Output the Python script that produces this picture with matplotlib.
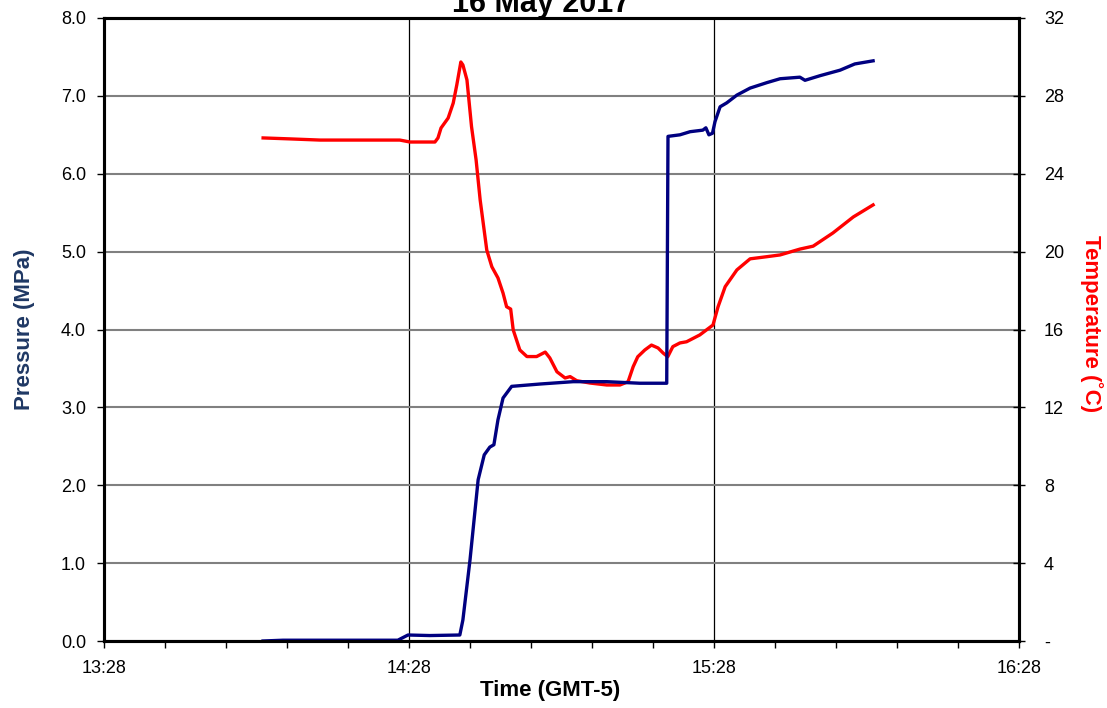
import matplotlib
matplotlib.use("Agg")
import matplotlib.pyplot as plt
import matplotlib.dates as mdates
import matplotlib.ticker as mticker
import pandas as pd

plt.rcParams['font.family'] = ['Liberation Sans', 'DejaVu Sans']

day = "2017-05-16 "

# pressure trace (MPa)
p_time = ["13:59:17", "14:03:12", "14:14:24", "14:25:48", "14:27:48", "14:32:06",
          "14:38:00", "14:38:36", "14:40:00", "14:41:36", "14:42:48", "14:43:54",
          "14:44:42", "14:45:30", "14:46:30", "14:48:12", "14:53:48", "15:00:18",
          "15:06:54", "15:13:24", "15:18:42", "15:18:57", "15:21:18", "15:23:18",
          "15:25:48", "15:26:24", "15:27:00", "15:27:42", "15:28:12", "15:29:12",
          "15:30:30", "15:32:30", "15:35:06", "15:38:24", "15:41:00", "15:44:54",
          "15:45:54", "15:48:54", "15:52:48", "15:55:42", "15:59:18"]
pressure = [0.00, 0.01, 0.01, 0.01, 0.077, 0.07,
            0.077, 0.27, 1.04, 2.07, 2.39, 2.49,
            2.52, 2.84, 3.12, 3.27, 3.30, 3.33,
            3.33, 3.31, 3.31, 6.48, 6.50, 6.54,
            6.56, 6.59, 6.50, 6.52, 6.67, 6.86,
            6.91, 7.01, 7.10, 7.17, 7.22, 7.24,
            7.20, 7.26, 7.33, 7.41, 7.45]

# temperature trace (deg C)
t_time = ["13:59:18", "14:04:36", "14:10:30", "14:18:24", "14:26:12", "14:28:12",
          "14:33:06", "14:33:42", "14:34:18", "14:35:42", "14:36:42", "14:37:24",
          "14:38:12", "14:38:36", "14:39:24", "14:40:18", "14:41:12", "14:42:00",
          "14:43:18", "14:44:18", "14:45:30", "14:46:30", "14:47:12", "14:48:00",
          "14:48:30", "14:49:48", "14:51:12", "14:53:06", "14:54:48", "14:55:42",
          "14:57:06", "14:58:42", "14:59:42", "15:01:00", "15:03:36", "15:06:54",
          "15:09:30", "15:11:06", "15:12:06", "15:13:00", "15:14:24", "15:15:42",
          "15:17:00", "15:18:00", "15:18:54", "15:19:54", "15:21:18", "15:22:36",
          "15:25:12", "15:27:48", "15:28:48", "15:30:12", "15:32:30", "15:35:06",
          "15:38:24", "15:41:00", "15:44:54", "15:47:30", "15:51:24", "15:55:24",
          "15:59:18"]
temperature = [25.84, 25.79, 25.73, 25.73, 25.73, 25.63,
               25.63, 25.84, 26.35, 26.86, 27.63, 28.56,
               29.74, 29.59, 28.82, 26.42, 24.71, 22.65,
               20.08, 19.22, 18.65, 17.87, 17.17, 17.05,
               15.98, 14.95, 14.61, 14.61, 14.84, 14.54,
               13.83, 13.51, 13.58, 13.37, 13.25, 13.15,
               13.15, 13.32, 14.09, 14.60, 14.95, 15.20,
               15.05, 14.79, 14.60, 15.12, 15.31, 15.37,
               15.72, 16.23, 17.17, 18.20, 19.06, 19.63,
               19.74, 19.83, 20.13, 20.28, 20.96, 21.78,
               22.40]

px = pd.to_datetime([day + s for s in p_time])
tx = pd.to_datetime([day + s for s in t_time])

fig = plt.figure(figsize=(11.07, 7.08), dpi=100)
ax2 = fig.add_axes([104/1107, 1-641/708, 915/1107, 623/708])
ax1 = ax2.twinx()
# pressure axis on the left, temperature on the right, blue drawn over red
ax1.yaxis.tick_left(); ax1.yaxis.set_label_position('left')
ax2.yaxis.tick_right(); ax2.yaxis.set_label_position('right')
ax1.set_zorder(ax2.get_zorder() + 1)
ax1.patch.set_visible(False)

ax2.plot(tx, temperature, color='#ff0000', lw=2.4, solid_joinstyle='round')
ax1.plot(px, pressure, color='#000080', lw=2.4, solid_joinstyle='round')

ax1.set_ylim(0, 8)
ax2.set_ylim(0, 32)
ax1.set_xlim(pd.Timestamp(day + "13:28"), pd.Timestamp(day + "16:28"))

ax1.yaxis.set_major_locator(mticker.MultipleLocator(1))
ax1.yaxis.set_major_formatter(mticker.FormatStrFormatter('%.1f'))
ax2.yaxis.set_major_locator(mticker.MultipleLocator(4))
ax2.yaxis.set_major_formatter(mticker.FuncFormatter(lambda v, p: '-' if v == 0 else '%d' % v))

ax2.xaxis.set_major_locator(mdates.MinuteLocator(byminute=[28]))
ax2.xaxis.set_minor_locator(mdates.MinuteLocator(byminute=[4, 16, 40, 52]))
ax2.xaxis.set_major_formatter(mdates.DateFormatter('%H:%M'))

ax2.grid(True, axis='y', color='#808080', lw=1.5)
ax2.grid(True, axis='x', which='major', color='black', lw=0.9)
ax2.set_axisbelow(True)

for ax in (ax1, ax2):
    for s in ax.spines.values():
        s.set_linewidth(2.2)
        s.set_color('black')

ax1.tick_params(axis='y', direction='out', length=5, width=1, labelsize=13, pad=8, colors='black')
ax2.tick_params(axis='y', direction='inout', length=8, width=1, labelsize=13, pad=14)
ax2.tick_params(axis='x', which='major', direction='out', length=5, width=1, labelsize=13, pad=9)
ax2.tick_params(axis='x', which='minor', direction='out', length=5, width=1)
ax1.tick_params(axis='x', which='both', bottom=False, labelbottom=False)

ax1.set_ylabel('Pressure (MPa)', fontsize=16, fontweight='bold', color='#1f3864')
ax1.yaxis.set_label_coords(-0.0755, 0.5)
ax2.set_ylabel('Temperature (˚C)', fontsize=16, fontweight='bold', color='#ff0000',
               rotation=270, va='center')
ax2.yaxis.set_label_coords(1.0787, 0.51)
ax2.set_xlabel('Time (GMT-5)', fontsize=16, fontweight='bold')
ax2.xaxis.set_label_coords(0.4874, -0.062)

fig.text(541/1107, 1-12/708, '16 May 2017', fontsize=22, fontweight='bold',
         ha='center', va='baseline')

fig.savefig('out.png', dpi=100)
